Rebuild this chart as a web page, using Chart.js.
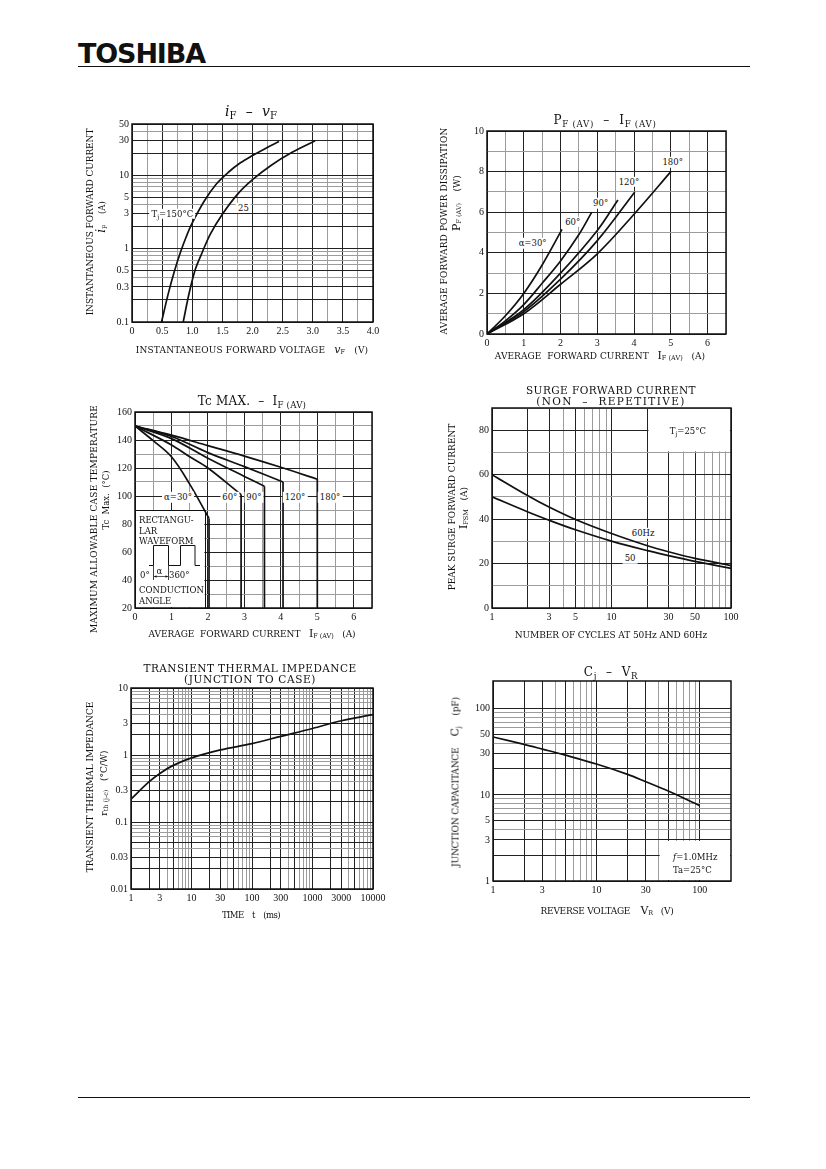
<!DOCTYPE html>
<html>
<head>
<meta charset="utf-8">
<title>TOSHIBA rectifier characteristics</title>
<script src="https://cdn.jsdelivr.net/npm/chart.js@4.4.1/dist/chart.umd.min.js"></script>
<style>
  html, body { margin: 0; padding: 0; background: #fff; }
  body { position: relative; width: 826px; height: 1169px; overflow: hidden; font-family: "DejaVu Serif", serif; color: #111; }
  .t { position: absolute; white-space: nowrap; line-height: 1; }
  .t sub { font-size: 0.72em; vertical-align: -0.3em; line-height: 0; }
  .lbl { background: #fff; padding: 1px 2px; }
  .rule { position: absolute; left: 78px; width: 672px; height: 0; border-top: 1.5px solid #111; }
  canvas { position: absolute; }
</style>
</head>
<body>
<div class="rule" style="top:66px"></div>
<div class="rule" style="top:1097px"></div>
<script>
// iF - vF
const ivVolt150 = [0.49, 0.6, 0.7, 0.8, 0.9, 1.0, 1.2, 1.4, 1.6, 1.8, 2.0, 2.2, 2.44];
const ivCurrent150 = [0.1, 0.24, 0.48, 0.87, 1.45, 2.24, 4.47, 7.6, 11, 14.8, 18.6, 22.9, 28.8];
const ivVolt25 = [0.85, 0.95, 1.05, 1.15, 1.3, 1.5, 1.75, 2.0, 2.3, 2.65, 3.04];
const ivCurrent25 = [0.1, 0.25, 0.52, 0.83, 1.58, 2.95, 5.5, 8.7, 13.5, 20.4, 29.5];
const ivXTicks = [0, 0.5, 1, 1.5, 2, 2.5, 3, 3.5, 4];
const ivYTicks = [0.1, 0.3, 0.5, 1, 3, 5, 10, 30, 50];

// PF(AV) - IF(AV), conduction angle 30..180 deg
const pfCur30 = [0, 0.5, 1, 1.5, 2.04];
const pfPow30 = [0, 0.9, 2.0, 3.4, 5.15];
const pfCur60 = [0, 0.5, 1, 1.5, 2, 2.5, 2.85];
const pfPow60 = [0, 0.65, 1.45, 2.5, 3.6, 4.9, 6.0];
const pfCur90 = [0, 1, 2, 3, 3.56];
const pfPow90 = [0, 1.2, 3.0, 5.1, 6.6];
const pfCur120 = [0, 1, 2, 3, 4.02];
const pfPow120 = [0, 1.1, 2.7, 4.6, 7.0];
const pfCur180 = [0, 1, 2, 3, 4, 5];
const pfPow180 = [0, 1.0, 2.45, 3.95, 5.9, 8.0];
const pfXTicks = [0, 1, 2, 3, 4, 5, 6];
const pfYTicks = [0, 2, 4, 6, 8, 10];

// Tc max - IF(AV)
const tcCur30 = [0, 0.5, 1, 1.5, 2.03];
const tcTemp30 = [150, 139.5, 128, 108.5, 84];
const tcCur60 = [0, 1, 1.5, 2, 2.91];
const tcTemp60 = [150, 136.5, 128, 120, 101];
const tcCur90 = [0, 1, 2, 3, 3.55];
const tcTemp90 = [150, 141, 127, 114, 107];
const tcCur120 = [0, 1, 2, 3, 4.06];
const tcTemp120 = [150, 142.5, 131, 121, 110];
const tcCur180 = [0, 1, 2, 3, 4, 5];
const tcTemp180 = [150, 143.5, 136, 128.5, 120.5, 112];
const tcXTicks = [0, 1, 2, 3, 4, 5, 6];
const tcYTicks = [20, 40, 60, 80, 100, 120, 140, 160];

// surge forward current
const surgeCycles = [1, 2, 3, 5, 10, 20, 30, 50, 100];
const surge60Hz = [60, 50.5, 45.4, 39.8, 33.5, 28.0, 25.3, 22.3, 19.1];
const surge50Hz = [50, 43.2, 39.5, 35.2, 30.1, 25.8, 23.6, 21.0, 17.8];
const surgeXTicks = [1, 3, 5, 10, 30, 50, 100];
const surgeYTicks = [0, 20, 40, 60, 80];

// transient thermal impedance
const thermTime = [1, 2, 3, 5, 10, 30, 100, 300, 1000, 3000, 10000];
const thermImp = [0.22, 0.40, 0.53, 0.70, 0.905, 1.19, 1.48, 1.9, 2.49, 3.25, 4.0];
const thermXTicks = [1, 3, 10, 30, 100, 300, 1000, 3000, 10000];
const thermYTicks = [0.01, 0.03, 0.1, 0.3, 1, 3, 10];

// Cj - VR
const capVolt = [1, 2, 3, 5, 10, 20, 30, 50, 100];
const capPf = [47, 38.6, 34, 28.9, 22.8, 17.3, 14.2, 11.0, 7.5];
const capXTicks = [1, 3, 10, 30, 100];
const capYTicks = [1, 3, 5, 10, 30, 50, 100];

// ---- helpers ----
function lin(a, b, step) {
  const out = [];
  for (let i = 0; a + i * step <= b + 1e-9; i++) out.push(+(a + i * step).toFixed(6));
  return out;
}
function logGrid(min, max) {
  const out = [];
  for (let k = Math.floor(Math.log10(min)); k <= Math.ceil(Math.log10(max)); k++) {
    for (let m = 1; m <= 9; m++) {
      const v = +(m * Math.pow(10, k)).toPrecision(6);
      if (v >= min * 0.9999 && v <= max * 1.0001) out.push(v);
    }
  }
  return out;
}
const near = x => Math.abs(x - Math.round(x)) < 1e-6;
const mant = v => Math.round(v / Math.pow(10, Math.floor(Math.log10(v) + 1e-9)));
const majorMant = v => [1, 2, 3, 5].includes(mant(v));

function text(x, y, html, o) {
  o = o || {};
  const el = document.createElement('div');
  el.className = 't' + (o.cls ? ' ' + o.cls : '');
  el.innerHTML = html;
  el.style.fontSize = (o.size || 9) + 'px';
  if (o.font) el.style.fontFamily = o.font;
  if (o.bold) el.style.fontWeight = 'bold';
  el.style.left = x + 'px';
  el.style.top = y + 'px';
  (o.parent || document.body).appendChild(el);
  if (o.w) {
    const extra = (o.w - el.offsetWidth) / el.textContent.length;
    el.style.letterSpacing = extra.toFixed(2) + 'px';
  }
  const ax = o.align === 'left' ? '0' : '-50%';
  el.style.transform = 'translate(' + ax + ',-50%)' + (o.rot ? ' rotate(-90deg)' : '');
  return el;
}

const framePlugin = {
  id: 'frame',
  beforeDatasetsDraw(chart, args, opts) {
    const { ctx, chartArea: a } = chart;
    const sx = chart.scales.x, sy = chart.scales.y;
    ctx.save();
    (opts.boxes || []).forEach(b => {
      const x0 = sx.getPixelForValue(b.x0), x1 = sx.getPixelForValue(b.x1);
      const y0 = sy.getPixelForValue(b.y0), y1 = sy.getPixelForValue(b.y1);
      const l = Math.min(x0, x1), t = Math.min(y0, y1), w = Math.abs(x1 - x0), h = Math.abs(y1 - y0);
      ctx.fillStyle = '#fff';
      ctx.fillRect(l + 1, t + 1, w - 2, h - 2);
      if (b.stroke) {
        ctx.strokeStyle = '#111';
        ctx.lineWidth = 1;
        ctx.strokeRect(Math.round(l) + 0.5, Math.round(t) + 0.5, Math.round(w), Math.round(h));
      }
    });
    ctx.strokeStyle = '#111';
    ctx.lineWidth = 1.5;
    ctx.strokeRect(a.left, a.top, a.width, a.height);
    ctx.restore();
  }
};

function axis(spec, which, size) {
  return {
    type: spec.log ? 'logarithmic' : 'linear',
    min: spec.min,
    max: spec.max,
    afterBuildTicks: s => { s.ticks = spec.grid.map(v => ({ value: v })); },
    afterFit: s => { if (which === 'x') s.height = size; else s.width = size; },
    ticks: {
      autoSkip: false, maxRotation: 0, padding: 3, color: '#111',
      font: { family: '"Liberation Serif", serif', size: 10 },
      callback: v => {
        const hit = spec.ticks.find(l => Math.abs(l - v) < 1e-9 * Math.max(1, Math.abs(l)));
        return hit === undefined ? '' : (spec.fmt ? spec.fmt(hit) : String(hit));
      }
    },
    grid: {
      drawTicks: false,
      color: c => (c.tick && spec.dark(c.tick.value)) ? '#222' : '#9c9c9c',
      lineWidth: 1
    },
    border: { display: false }
  };
}

function curve(xs, ys) {
  return {
    data: xs.map((x, i) => ({ x: x, y: ys[i] })),
    borderColor: '#111', borderWidth: 1.7, pointRadius: 0, fill: false, tension: 0.35
  };
}
function drop(xs, ys, floor) {
  const n = xs.length - 1;
  return {
    data: [{ x: xs[n], y: ys[n] }, { x: xs[n], y: floor }],
    borderColor: '#111', borderWidth: 1.7, pointRadius: 0, fill: false, tension: 0
  };
}

const PL = 45, PT = 12, PR = 24, PB = 22;
function makeChart(box, xs, ys, datasets, boxes) {
  const w = box.r - box.l + PL + PR, h = box.b - box.t + PT + PB;
  const cv = document.createElement('canvas');
  cv.width = w; cv.height = h;
  cv.style.left = (box.l - PL) + 'px';
  cv.style.top = (box.t - PT) + 'px';
  cv.style.width = w + 'px';
  cv.style.height = h + 'px';
  document.body.appendChild(cv);
  const chart = new Chart(cv, {
    type: 'line',
    data: { datasets: datasets },
    options: {
      responsive: false, animation: false, events: [],
      layout: { padding: { left: 0, top: PT, right: PR, bottom: 0 } },
      plugins: { legend: { display: false }, tooltip: { enabled: false }, frame: { boxes: boxes || [] } },
      scales: { x: axis(xs, 'x', PB), y: axis(ys, 'y', PL) }
    },
    plugins: [framePlugin]
  });
  chart._origin = { x: box.l - PL, y: box.t - PT };
  return chart;
}
function note(chart, xv, yv, html, o) {
  const px = chart._origin.x + chart.scales.x.getPixelForValue(xv);
  const py = chart._origin.y + chart.scales.y.getPixelForValue(yv);
  return text(px, py, html, Object.assign({ size: 8.5 }, o || {}));
}

// ---- header ----
text(141.5, 53, 'TOSHIBA', { size: 27, font: '"DejaVu Sans", sans-serif', bold: true, w: 127 });

// ---- chart 1: iF - vF ----
const c1 = makeChart({ l: 132, t: 124, r: 373, b: 322 },
  { min: 0, max: 4, grid: lin(0, 4, 0.25), ticks: ivXTicks, fmt: v => v === 0 ? '0' : v.toFixed(1), dark: v => near(v / 0.5) },
  { log: true, min: 0.1, max: 50, grid: logGrid(0.1, 50), ticks: ivYTicks, dark: majorMant },
  [curve(ivVolt150, ivCurrent150), curve(ivVolt25, ivCurrent25)]);
text(251, 111, '<i>i</i><sub>F</sub> &nbsp;– &nbsp;<i>v</i><sub>F</sub>', { size: 14, w: 52 });
text(90, 222, 'INSTANTANEOUS FORWARD CURRENT', { rot: true, w: 187 });
text(101, 217, '<i style="font-size:12px">i</i><sub>F</sub>&nbsp;&nbsp;&nbsp;&nbsp;(A)', { rot: true, size: 8.5 });
text(252, 349, 'INSTANTANEOUS FORWARD VOLTAGE&nbsp;&nbsp;&nbsp;<i style="font-size:11px">v</i><sub>F</sub>&nbsp;&nbsp;&nbsp;(V)', { w: 232 });
note(c1, 0.67, 3, 'T<sub>j</sub>=150°C', { cls: 'lbl' });
note(c1, 1.85, 3.6, '25', { cls: 'lbl' });

// ---- chart 2: PF(AV) - IF(AV) ----
const c2 = makeChart({ l: 487, t: 131, r: 726, b: 334 },
  { min: 0, max: 6.5, grid: lin(0, 6.5, 0.5), ticks: pfXTicks, dark: v => near(v) },
  { min: 0, max: 10, grid: lin(0, 10, 1), ticks: pfYTicks, dark: v => near(v / 2) },
  [curve(pfCur30, pfPow30), curve(pfCur60, pfPow60), curve(pfCur90, pfPow90),
   curve(pfCur120, pfPow120), curve(pfCur180, pfPow180)]);
text(605, 120, 'P<sub>F (AV)</sub> &nbsp;– &nbsp;I<sub>F (AV)</sub>', { size: 12, w: 103 });
text(444, 231, 'AVERAGE FORWARD POWER DISSIPATION', { rot: true, w: 207 });
text(456, 203, '<span style="font-size:11px">P</span><sub>F (AV)</sub>&nbsp;&nbsp;&nbsp;&nbsp;(W)', { rot: true, size: 9 });
text(600, 355, 'AVERAGE&nbsp;&nbsp;FORWARD CURRENT&nbsp;&nbsp;&nbsp;<span style="font-size:11px">I</span><sub>F (AV)</sub>&nbsp;&nbsp;&nbsp;(A)', { w: 210 });
note(c2, 1.24, 4.48, 'α=30°', { cls: 'lbl' });
note(c2, 2.33, 5.52, '60°', { cls: 'lbl' });
note(c2, 3.09, 6.45, '90°', { cls: 'lbl' });
note(c2, 3.86, 7.49, '120°', { cls: 'lbl' });
note(c2, 5.05, 8.47, '180°', { cls: 'lbl' });

// ---- chart 3: Tc max - IF(AV) ----
const tcFloor = 20;
const c3 = makeChart({ l: 135, t: 412, r: 372, b: 608 },
  { min: 0, max: 6.5, grid: lin(0, 6.5, 0.5), ticks: tcXTicks, dark: v => near(v) },
  { min: tcFloor, max: 160, grid: lin(20, 160, 10), ticks: tcYTicks, dark: v => near(v / 20) },
  [curve(tcCur30, tcTemp30), drop(tcCur30, tcTemp30, tcFloor),
   curve(tcCur60, tcTemp60), drop(tcCur60, tcTemp60, tcFloor),
   curve(tcCur90, tcTemp90), drop(tcCur90, tcTemp90, tcFloor),
   curve(tcCur120, tcTemp120), drop(tcCur120, tcTemp120, tcFloor),
   curve(tcCur180, tcTemp180), drop(tcCur180, tcTemp180, tcFloor)],
  [{ x0: 0, x1: 1.93, y0: 20, y1: 90, stroke: true }]);
text(252, 401, 'Tc MAX. &nbsp;– &nbsp;I<sub>F (AV)</sub>', { size: 12, w: 108 });
text(94, 519, 'MAXIMUM ALLOWABLE CASE TEMPERATURE', { rot: true, w: 228 });
text(106, 500, 'Tc&nbsp;&nbsp;Max.&nbsp;&nbsp;(°C)', { rot: true, size: 8.5 });
text(252, 633, 'AVERAGE&nbsp;&nbsp;FORWARD CURRENT&nbsp;&nbsp;&nbsp;<span style="font-size:11px">I</span><sub>F (AV)</sub>&nbsp;&nbsp;&nbsp;(A)', { w: 207 });
note(c3, 1.18, 99, 'α=30°', { cls: 'lbl' });
note(c3, 2.6, 99, '60°', { cls: 'lbl' });
note(c3, 3.26, 99, '90°', { cls: 'lbl' });
note(c3, 4.39, 99, '120°', { cls: 'lbl' });
note(c3, 5.35, 99, '180°', { cls: 'lbl' });
// inset: rectangular waveform legend
(function () {
  const x0 = c3._origin.x + c3.scales.x.getPixelForValue(0);
  const y0 = c3._origin.y + c3.scales.y.getPixelForValue(90);
  const o = { size: 8.5, align: 'left' };
  text(x0 + 4, y0 + 10, 'RECTANGU-', o);
  text(x0 + 4, y0 + 21, 'LAR', o);
  text(x0 + 4, y0 + 31, 'WAVEFORM', o);
  text(x0 + 5, y0 + 65, '0°', o);
  text(x0 + 21.5, y0 + 61, 'α', o);
  text(x0 + 34, y0 + 65, '360°', o);
  text(x0 + 4, y0 + 80, 'CONDUCTION', o);
  text(x0 + 4, y0 + 91, 'ANGLE', o);
  const svg = document.createElementNS('http://www.w3.org/2000/svg', 'svg');
  svg.setAttribute('width', '70');
  svg.setAttribute('height', '75');
  svg.style.cssText = 'position:absolute;left:' + x0 + 'px;top:' + y0 + 'px';
  svg.innerHTML =
    '<polyline points="14,55.5 18.5,55.5 18.5,35.5 33.5,35.5 33.5,55.5 45.5,55.5 45.5,35.5 60,35.5 60,55.5 65,55.5" fill="none" stroke="#111" stroke-width="1"/>' +
    '<line x1="18.5" y1="55.5" x2="18.5" y2="70" stroke="#111" stroke-width="0.8"/>' +
    '<line x1="33.5" y1="55.5" x2="33.5" y2="70" stroke="#111" stroke-width="0.8"/>' +
    '<line x1="19" y1="66.5" x2="33" y2="66.5" stroke="#111" stroke-width="0.7"/>' +
    '<path d="M19,66.5 l2.5,-1.3 v2.6z M33,66.5 l-2.5,-1.3 v2.6z" fill="#111"/>';
  document.body.appendChild(svg);
})();

// ---- chart 4: surge forward current ----
const c4 = makeChart({ l: 492, t: 408, r: 731, b: 608 },
  { log: true, min: 1, max: 100, grid: logGrid(1, 100), ticks: surgeXTicks, dark: majorMant },
  { min: 0, max: 90, grid: lin(0, 90, 10), ticks: surgeYTicks, dark: v => near(v / 20) },
  [curve(surgeCycles, surge60Hz), curve(surgeCycles, surge50Hz)],
  [{ x0: 20, x1: 100, y0: 70, y1: 90 }]);
text(611, 390, 'SURGE FORWARD CURRENT', { size: 10.5, w: 170 });
text(611, 401, '(NON &nbsp;– &nbsp;REPETITIVE)', { size: 10.5, w: 150 });
text(452, 507, 'PEAK SURGE FORWARD CURRENT', { rot: true, w: 167 });
text(463, 508, '<span style="font-size:11px">I</span><sub>FSM</sub>&nbsp;&nbsp;&nbsp;(A)', { rot: true, size: 9 });
text(611, 635, 'NUMBER OF CYCLES AT 50Hz AND 60Hz', { w: 192 });
note(c4, 43.6, 79.7, 'T<sub>j</sub>=25°C');
note(c4, 18.4, 33.7, '60Hz', { cls: 'lbl' });
note(c4, 14.3, 22.4, '50', { cls: 'lbl' });

// ---- chart 5: transient thermal impedance ----
const c5 = makeChart({ l: 131, t: 688, r: 373, b: 889 },
  { log: true, min: 1, max: 10000, grid: logGrid(1, 10000), ticks: thermXTicks, dark: majorMant },
  { log: true, min: 0.01, max: 10, grid: logGrid(0.01, 10), ticks: thermYTicks, dark: majorMant },
  [curve(thermTime, thermImp)]);
text(250, 668, 'TRANSIENT THERMAL IMPEDANCE', { size: 10.5, w: 213 });
text(250, 679, '(JUNCTION TO CASE)', { size: 10.5, w: 132 });
text(90, 787, 'TRANSIENT THERMAL IMPEDANCE', { rot: true, w: 170 });
text(104, 783, 'r<sub>th (j-c)</sub>&nbsp;&nbsp;&nbsp;(°C/W)', { rot: true, size: 9 });
text(251, 915, 'TIME&nbsp;&nbsp;&nbsp;&nbsp;t&nbsp;&nbsp;&nbsp;&nbsp;(ms)', { w: 58, size: 8.5 });

// ---- chart 6: Cj - VR ----
const c6 = makeChart({ l: 493, t: 681, r: 731, b: 881 },
  { log: true, min: 1, max: 200, grid: logGrid(1, 100), ticks: capXTicks, dark: majorMant },
  { log: true, min: 1, max: 210, grid: logGrid(1, 100), ticks: capYTicks, dark: majorMant },
  [curve(capVolt, capPf)],
  [{ x0: 40, x1: 200, y0: 1, y1: 3 }]);
text(611, 672, 'C<sub>j</sub> &nbsp;– &nbsp;V<sub>R</sub>', { size: 12, w: 54 });
text(455, 782, 'JUNCTION CAPACITANCE&nbsp;&nbsp;&nbsp;&nbsp;<span style="font-size:11px">C</span><sub>j</sub>&nbsp;&nbsp;&nbsp;&nbsp;(pF)', { rot: true, w: 170 });
text(607, 910, 'REVERSE VOLTAGE&nbsp;&nbsp;&nbsp;&nbsp;<span style="font-size:11px">V</span><sub>R</sub>&nbsp;&nbsp;&nbsp;(V)', { w: 133 });
note(c6, 55, 1.9, '<i>f</i>=1.0MHz', { align: 'left' });
note(c6, 55, 1.34, 'Ta=25°C', { align: 'left' });
</script>
</body>
</html>
